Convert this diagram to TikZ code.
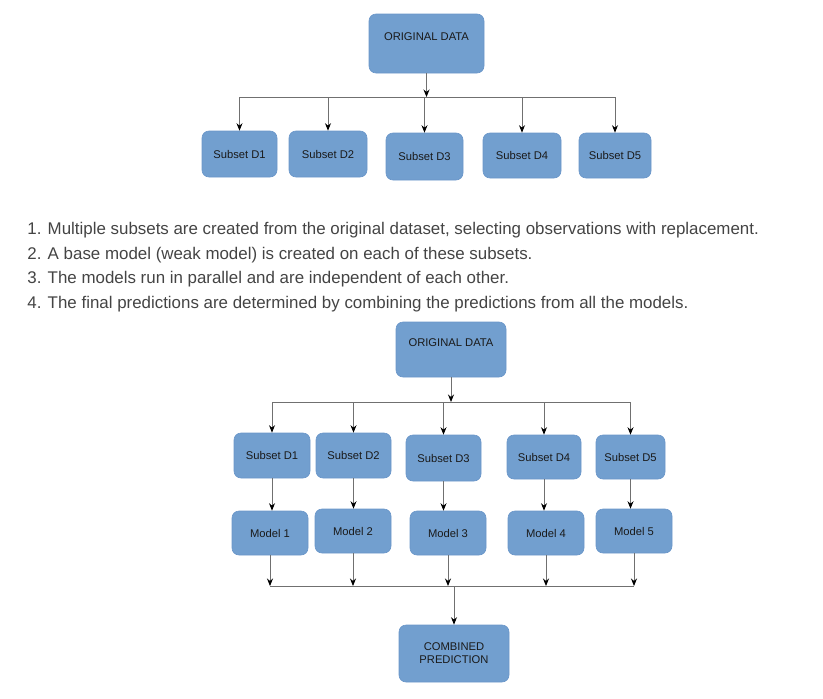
\documentclass[tikz,border=0pt]{standalone}
\usepackage{fontspec}
\setmainfont{Liberation Sans}
\usepackage{tikz}
\usetikzlibrary{arrows.meta}
\usetikzlibrary{calc}
\usetikzlibrary{positioning}
\definecolor{boxblue}{HTML}{729FCF}
\definecolor{boxedge}{HTML}{6A96C9}
\definecolor{linegray}{HTML}{707070}
\definecolor{listgray}{HTML}{444444}
\definecolor{boxtext}{HTML}{1A1A1A}

\begin{document}
\begin{tikzpicture}[x=1pt,y=-1pt,
->,>={Stealth[length=7.5pt,width=6pt,color=black]},
linegray, line width=0.8pt,
box_n/.style = {rectangle, rounded corners=7pt, draw=boxedge, line width=0.6pt, fill=boxblue, text=boxtext, align=center, inner sep=0pt, font=\fontsize{11.2}{13}\selectfont},
box_s/.style = {box_n, minimum width=76pt, minimum height=45pt},
box_o/.style = {box_n, minimum width=113pt, minimum height=57pt, text height=8pt, text depth=14pt},
listline/.style = {anchor=base west, inner sep=0pt, text=listgray, font=\fontsize{16.9}{20}\selectfont}
]
\useasboundingbox (0,0) rectangle (823,699);

% first tree
\node (O1) [box_o, minimum width=115pt, minimum height=59pt] at (426.5,43.5) {ORIGINAL DATA};
\node (D1) [box_s, minimum width=75pt, minimum height=46pt] at (239.5,154) {Subset D1};
\node (D2) [box_s, minimum width=78pt, minimum height=46pt] at (328,154) {Subset D2};
\node (D3) [box_s, minimum width=77pt, minimum height=47pt] at (424.5,156.5) {Subset D3};
\node (D4) [box_s, minimum width=78pt] at (522,155.5) {Subset D4};
\node (D5) [box_s, minimum width=72pt] at (615,155.5) {Subset D5};

\coordinate (TBar) at (0,97);
\draw (O1) -- (O1 |- TBar);
\draw[-] (D1 |- TBar) -- (D5 |- TBar);
\draw (D1 |- TBar) -- (D1);
\draw (D2 |- TBar) -- (D2);
\draw (D3 |- TBar) -- (D3);
\draw (D4 |- TBar) -- (D4);
\draw (D5 |- TBar) -- (D5);

% the four steps
\node (L1) [listline] at (27,234) {1. Multiple subsets are created from the original dataset, selecting observations with replacement.};
\node (L2) [listline] at (27,259) {2. A base model (weak model) is created on each of these subsets.};
\node (L3) [listline] at (27,283.5) {3. The models run in parallel and are independent of each other.};
\node (L4) [listline] at (27,308) {4. The final predictions are determined by combining the predictions from all the models.};

% second tree
\node (O2) [box_o, minimum width=110pt, minimum height=55pt] at (451,349.5) {ORIGINAL DATA};
\node (E1) [box_s] at (272,455.5) {Subset D1};
\node (E2) [box_s, minimum width=75pt] at (353.5,455.5) {Subset D2};
\node (E3) [box_s, minimum width=75pt, minimum height=46pt] at (443.5,458) {Subset D3};
\node (E4) [box_s, minimum width=74pt, minimum height=44pt] at (544,457) {Subset D4};
\node (E5) [box_s, minimum width=69pt, minimum height=44pt] at (630.5,457) {Subset D5};

\node (M1) [box_s, minimum height=44pt] at (270,533) {Model 1};
\node (M2) [box_s, minimum height=44pt] at (353,531) {Model 2};
\node (M3) [box_s, minimum height=44pt] at (448,533) {Model 3};
\node (M4) [box_s, minimum height=44pt] at (546,533) {Model 4};
\node (M5) [box_s, minimum height=44pt] at (634,531) {Model 5};

\node (C) [box_n, minimum width=110pt, minimum height=57pt] at (454,653.5) {COMBINED\\PREDICTION};

\coordinate (MBar) at (0,402);
\coordinate (BBar) at (0,586);
\draw (O2) -- (O2 |- MBar);
\draw[-] (E1 |- MBar) -- (E5 |- MBar);
\draw (E1 |- MBar) -- (E1);
\draw (E2 |- MBar) -- (E2);
\draw (E3 |- MBar) -- (E3);
\draw (E4 |- MBar) -- (E4);
\draw (E5 |- MBar) -- (E5);

\draw (E1) -- (E1 |- M1.north);
\draw (E2) -- (E2 |- M2.north);
\draw (E3) -- (E3 |- M3.north);
\draw (E4) -- (E4 |- M4.north);
\draw (E5) -- (E5 |- M5.north);

\draw[-] (M1 |- BBar) -- (M5 |- BBar);
\draw (M1) -- (M1 |- BBar);
\draw (M2) -- (M2 |- BBar);
\draw (M3) -- (M3 |- BBar);
\draw (M4) -- (M4 |- BBar);
\draw (M5) -- (M5 |- BBar);
\draw (C |- BBar) -- (C);
\end{tikzpicture}
\end{document}
